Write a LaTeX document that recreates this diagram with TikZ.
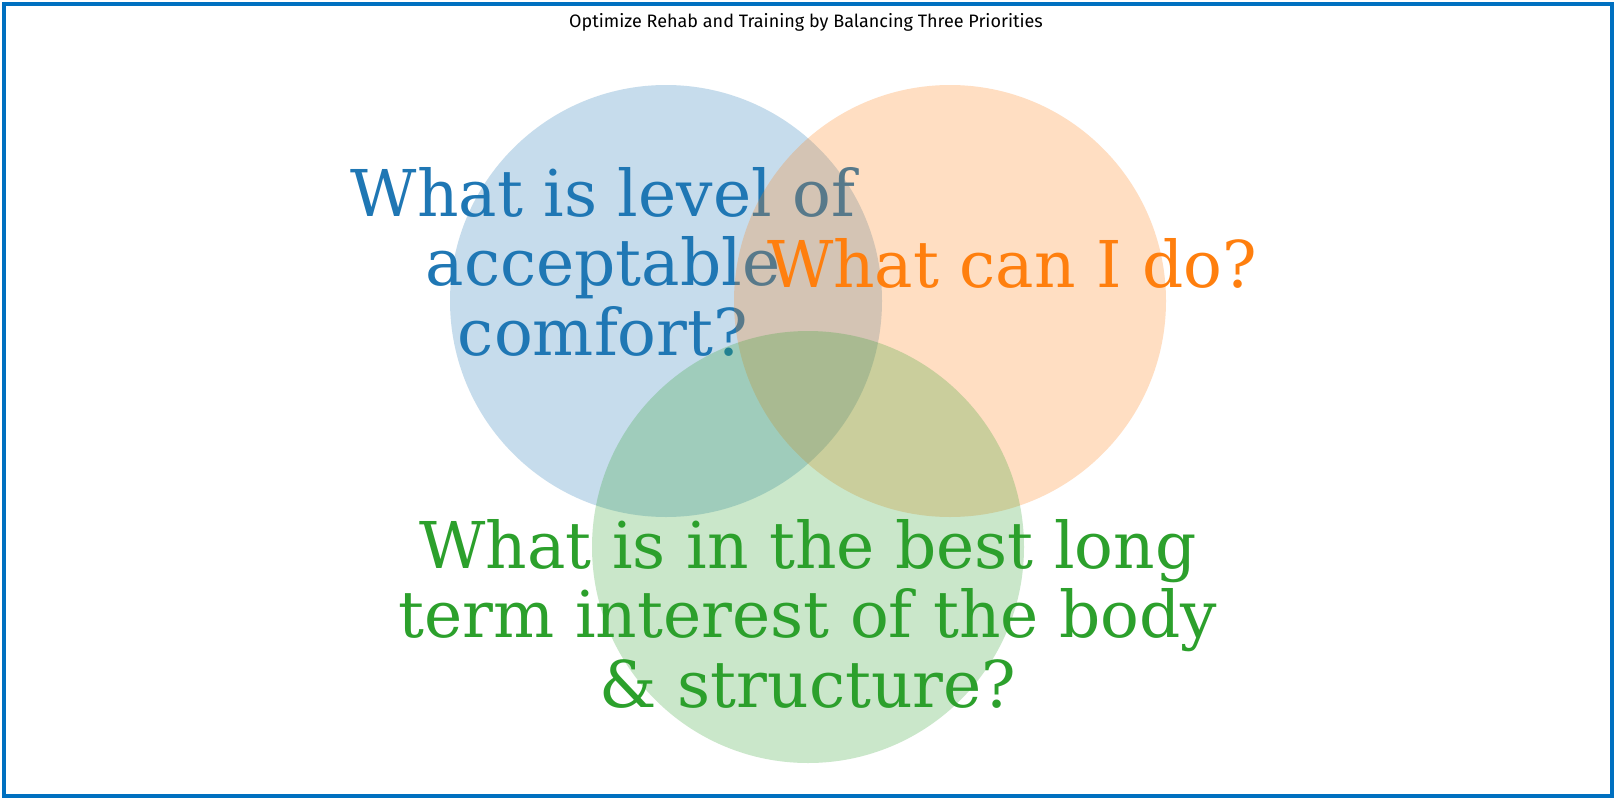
\documentclass[tikz,border=0pt]{standalone}
\usepackage{fontspec}
\setmainfont{DejaVu Serif}
\newfontfamily\titlefont{Fira Sans}
\newfontfamily\bigserif{DejaVu Serif}
\definecolor{tabblue}{HTML}{1F77B4}
\definecolor{taborange}{HTML}{FF7F0E}
\definecolor{tabgreen}{HTML}{2CA02C}
\definecolor{framecol}{HTML}{0070C0}
\tikzset{
  setcircle/.style={fill opacity=0.25, draw=none},
  bigtext/.style={font=\bigserif\fontsize{64.5}{69.5}\selectfont, align=center, inner sep=0pt, anchor=base},
}
\begin{document}
\begin{tikzpicture}[x=1pt,y=-1pt]
\useasboundingbox (0,0) rectangle (1616,800);
\fill[white] (0,0) rectangle (1616,800);
\draw[framecol, line width=4pt] (4,4) rectangle (1612,796);
\node[font=\titlefont\fontsize{18}{20}\selectfont, anchor=base, inner sep=0pt] (title) at (806,27.5) {Optimize Rehab and Training by Balancing Three Priorities};
\fill[tabblue, setcircle] (666,301) circle (216) coordinate (cblue);
\node[bigtext, text=tabblue] (tblue) at (603,355) {What is level of\\acceptable\\comfort?};
\fill[taborange, setcircle] (950,301) circle (216) coordinate (corange);
\node[bigtext, text=taborange] (torange) at (1012,287) {What can I do?};
\fill[tabgreen, setcircle] (808,547) circle (216) coordinate (cgreen);
\node[bigtext, text=tabgreen] (tgreen) at (808,707) {What is in the best long\\term interest of the body\\\& structure?};
\end{tikzpicture}
\end{document}
